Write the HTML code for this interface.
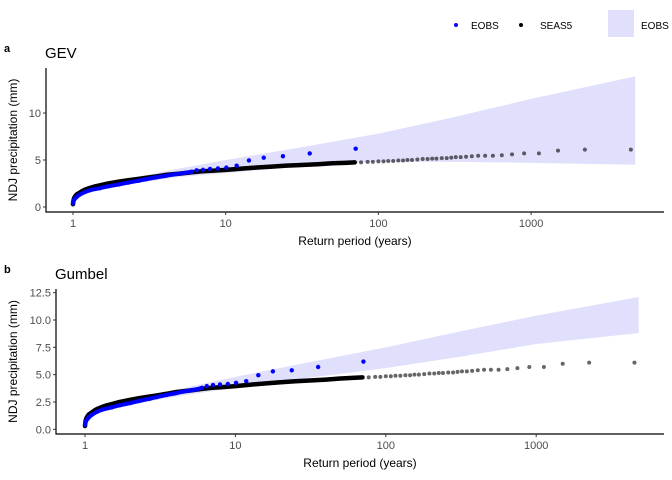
<!DOCTYPE html>
<html><head><meta charset="utf-8"><style>
body{margin:0;background:#fff;}
svg{display:block;font-family:"Liberation Sans",sans-serif;}
.tick{font-size:11px;fill:#4d4d4d;}
.ttl{font-size:12px;fill:#000;}
</style></head><body>
<svg id="chart" width="672" height="480">
<g>
<circle cx="456" cy="25" r="2" fill="#0000ff"/>
<text x="471" y="29" font-size="10">EOBS</text>
<circle cx="521" cy="25" r="2" fill="#000"/>
<text x="540" y="29" font-size="10">SEAS5</text>
<rect x="608" y="10" width="26" height="27" fill="#e0e0fc"/>
<text x="641" y="29" font-size="10">EOBS</text>
</g>
</svg>
<script>
// SEAS5 return periods and values
const seasT = [1,1.005,1.01,1.02,1.04,1.06,1.1,1.15,1.2,1.3,1.4,1.5,1.7,2,2.3,2.7,3,3.5,4,5,6,7,8,10,13,16,20,25,30,40,50,60,70,77,85,92,100,108,116,125,135,145,155,166,180,195,210,225,240,260,280,300,321,346,375,409,450,500,562,643,750,900,1125,1500,2250,4500];
const seasGEV = [0.3,0.6,0.8,1.0,1.2,1.35,1.5,1.7,1.85,2.05,2.2,2.3,2.5,2.7,2.85,3.0,3.1,3.25,3.4,3.55,3.7,3.8,3.85,3.95,4.1,4.2,4.3,4.4,4.45,4.55,4.65,4.7,4.75,4.75,4.8,4.8,4.85,4.85,4.9,4.9,4.95,4.95,5.0,5.0,5.05,5.1,5.1,5.15,5.15,5.2,5.2,5.25,5.3,5.3,5.35,5.4,5.45,5.45,5.45,5.5,5.6,5.7,5.7,6.0,6.1,6.1];
const seasGum = [0.3,0.6,0.8,1.0,1.2,1.35,1.5,1.7,1.85,2.05,2.2,2.3,2.5,2.7,2.85,3.0,3.1,3.25,3.4,3.55,3.7,3.8,3.85,3.95,4.1,4.2,4.3,4.4,4.45,4.55,4.65,4.7,4.75,4.75,4.8,4.8,4.85,4.85,4.9,4.9,4.95,4.95,5.0,5.0,5.05,5.1,5.1,5.15,5.15,5.2,5.2,5.25,5.3,5.3,5.35,5.4,5.45,5.45,5.45,5.5,5.6,5.7,5.7,6.0,6.1,6.1];
// EOBS return periods and values
const eobsT = [1,1.01,1.03,1.06,1.1,1.2,1.3,1.5,1.7,2,2.3,2.7,3,3.5,4,4.5,5,5.5,6,6.45,7.1,7.9,8.9,10.1,11.8,14.2,17.75,23.7,35.5,71];
const eobsGEV = [0.4,0.7,0.9,1.1,1.3,1.6,1.8,2.0,2.2,2.4,2.6,2.8,2.95,3.15,3.3,3.45,3.55,3.65,3.75,3.9,3.95,4.05,4.1,4.2,4.4,4.95,5.25,5.4,5.7,6.2];
const eobsGum = [0.4,0.7,0.9,1.1,1.3,1.6,1.8,2.0,2.2,2.4,2.6,2.8,2.95,3.15,3.3,3.45,3.55,3.65,3.8,3.95,4.05,4.1,4.15,4.25,4.4,4.95,5.3,5.4,5.7,6.2];
// EOBS confidence band
const bandT = [1,1.2,1.5,2,3,5,10,30,100,300,1000,4800];
const bandGEVlo = [0.3,1.5,1.8,2.2,2.7,3.2,3.6,4.3,4.8,4.8,4.7,4.5];
const bandGEVhi = [0.5,1.9,2.3,2.8,3.4,4.1,5.0,6.3,7.8,9.5,11.5,13.9];
const bandGumlo = [0.3,1.5,1.8,2.2,2.7,3.2,3.8,4.7,5.6,6.6,7.8,8.8];
const bandGumhi = [0.5,1.8,2.2,2.7,3.2,3.9,4.8,6.1,7.5,8.9,10.4,12.1];
const xTicks = [1,10,100,1000];
const yTicksA = [0,5,10];
const yTicksB = [0,2.5,5,7.5,10,12.5];
const yLabB = ["0.0","2.5","5.0","7.5","10.0","12.5"];

const NS="http://www.w3.org/2000/svg";
const svg=document.getElementById('chart');
function mk(tag,attrs,parent){const e=document.createElementNS(NS,tag);for(const k in attrs)e.setAttribute(k,attrs[k]);(parent||svg).appendChild(e);return e;}

function panel(p){
  const g=mk('g',{});
  
  
  const X=t=>p.x1+Math.log10(t)*p.dec;
  const Y=v=>p.y0-v*p.ppu;
  let pts=bandT.map((t,i)=>X(t)+','+Y(p.hi[i]));
  for(let i=bandT.length-1;i>=0;i--)pts.push(X(bandT[i])+','+Y(p.lo[i]));
  const band=mk('polygon',{points:pts.join(' '),fill:'#e0e0fc'},g);
  
  
  const dense=seasT.map((t,i)=>[t,p.seas[i]]).filter(d=>d[0]<=75);
  const l=mk('polyline',{points:dense.map(d=>X(d[0])+','+Y(d[1])).join(' '),fill:'none',stroke:'#000','stroke-width':4.5,'stroke-linejoin':'round','stroke-linecap':'round'},g);
  
  
  seasT.forEach((t,i)=>{
    const c=mk('circle',{cx:X(t),cy:Y(p.seas[i]),r:2,fill:'#000','fill-opacity':0.6},g);
    
    
  });
  const ed=eobsT.map((t,i)=>[t,p.eobs[i]]).filter(d=>d[0]<=6);
  const bl=mk('polyline',{points:ed.map(d=>X(d[0])+','+Y(d[1])).join(' '),fill:'none',stroke:'#0000ff','stroke-width':4},g);
  
  
  eobsT.forEach((t,i)=>{
    const c=mk('circle',{cx:X(t),cy:Y(p.eobs[i]),r:2.2,fill:'#0000ff'},g);
    
    
  });
  const ax=mk('path',{d:`M${p.ax},${p.top}V${p.bot}H${p.right}`,stroke:'#000','stroke-width':1.2,fill:'none'},g);
  
  
  xTicks.forEach(t=>{
    mk('line',{x1:X(t),x2:X(t),y1:p.bot,y2:p.bot+3,stroke:'#333'},g);
    const tx=mk('text',{x:X(t),y:p.bot+15,'text-anchor':'middle',class:'tick'},g);
    tx.textContent=String(t);
    
    
  });
  p.yt.forEach((v,i)=>{
    mk('line',{x1:p.ax-3,x2:p.ax,y1:Y(v),y2:Y(v),stroke:'#333'},g);
    const tx=mk('text',{x:p.ax-5,y:Y(v)+4,'text-anchor':'end',class:'tick'},g);
    tx.textContent=p.yl[i];
    
    
  });
  const xt=mk('text',{x:(p.ax+p.right)/2,y:p.bot+33,'text-anchor':'middle',class:'ttl'},g);
  xt.textContent='Return period (years)';
  
  
  const yt=mk('text',{x:0,y:0,'text-anchor':'middle',class:'ttl',transform:`translate(${p.ytx},${(p.top+p.bot)/2}) rotate(-90)`},g);
  yt.textContent='NDJ precipitation (mm)';
  
  
  const tt=mk('text',{x:p.ax-1,y:p.top-10,'font-size':15},g);
  tt.textContent=p.title;
  
  
  const tg=mk('text',{x:4,y:p.top-16,'font-size':11,'font-weight':'bold'},g);
  tg.textContent=p.id;
  
  
}
panel({id:'a',title:'GEV',x1:73,dec:152.7,y0:207,ppu:9.4,ax:46,top:68,bot:212,right:664,ytx:17,
  seas:seasGEV,eobs:eobsGEV,lo:bandGEVlo,hi:bandGEVhi,yt:yTicksA,yl:yTicksA.map(String)});
panel({id:'b',title:'Gumbel',x1:85,dec:150.4,y0:429.3,ppu:10.93,ax:56,top:289,bot:434,right:664,ytx:17,
  seas:seasGum,eobs:eobsGum,lo:bandGumlo,hi:bandGumhi,yt:yTicksB,yl:yLabB});
</script>
</body></html>
